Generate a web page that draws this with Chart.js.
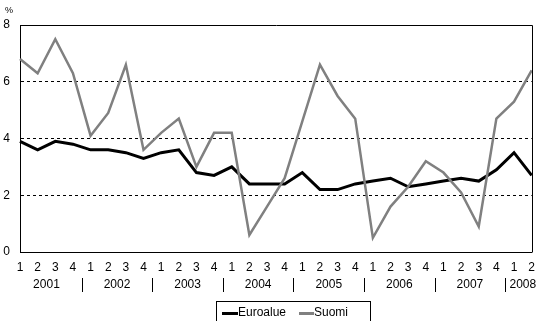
<!DOCTYPE html>
<html><head><meta charset="utf-8">
<script src="https://cdn.jsdelivr.net/npm/chart.js@4.4.0/dist/chart.umd.min.js"></script>
<style>
html,body{margin:0;padding:0;background:#fff;overflow:hidden;}
#wrap{position:relative;width:543px;height:321px;overflow:hidden;}
#c{position:absolute;left:0;top:0;}
#legend{position:absolute;left:216px;top:301px;width:153px;height:30px;border:1px solid #000;font:12px "Liberation Sans",Arial,sans-serif;color:#000;}
.sw{position:absolute;height:3px;top:10px;}
.lt{position:absolute;top:3px;line-height:14px;}
</style>
</head><body>
<div id="wrap">
<canvas id="c" width="543" height="321"></canvas>
<div id="legend">
  <div class="sw" style="left:5px;width:16px;background:#000;"></div>
  <div class="lt" style="left:21px;" id="l1"></div>
  <div class="sw" style="left:82px;width:15px;background:#808080;"></div>
  <div class="lt" style="left:97px;" id="l2"></div>
</div>
</div>
<script>
const seriesNames = ["Euroalue", "Suomi"];
const quarterLabels = ["1","2","3","4","1","2","3","4","1","2","3","4","1","2","3","4","1","2","3","4","1","2","3","4","1","2","3","4","1","2"];
const yearLabels = ["2001","2002","2003","2004","2005","2006","2007","2008"];
const quartersPerYear = [4,4,4,4,4,4,4,2];
const euroalue = [3.9,3.6,3.9,3.8,3.6,3.6,3.5,3.3,3.5,3.6,2.8,2.7,3.0,2.4,2.4,2.4,2.8,2.2,2.2,2.4,2.5,2.6,2.3,2.4,2.5,2.6,2.5,2.9,3.5,2.7];
const suomi = [6.8,6.3,7.5,6.3,4.1,4.9,6.6,3.6,4.2,4.7,3.0,4.2,4.2,0.6,1.6,2.6,4.6,6.6,5.5,4.7,0.5,1.6,2.3,3.2,2.8,2.1,0.9,4.7,5.3,6.4];
const yTickValues = [0,2,4,6,8];
const unitLabel = "%";

document.getElementById('l1').textContent = seriesNames[0];
document.getElementById('l2').textContent = seriesNames[1];

const FONT = '"Liberation Sans", Arial, sans-serif';

const extras = {
  id: 'extras',
  afterDraw(chart) {
    const ctx = chart.ctx, a = chart.chartArea, xs = chart.scales.x;
    ctx.save();
    ctx.strokeStyle = '#000';
    ctx.lineWidth = 1;
    ctx.beginPath();
    ctx.moveTo(Math.round(a.left) + 0.5, Math.round(a.top) + 0.5);
    ctx.lineTo(Math.round(a.right) + 0.5, Math.round(a.top) + 0.5);
    ctx.lineTo(Math.round(a.right) + 0.5, Math.round(a.bottom) + 0.5);
    ctx.stroke();
    ctx.fillStyle = '#000';
    ctx.font = '9px ' + FONT;
    ctx.textAlign = 'left';
    ctx.textBaseline = 'middle';
    ctx.fillText(unitLabel, 5, 11);
    ctx.font = '12px ' + FONT;
    ctx.textAlign = 'center';
    let idx = 0;
    const yText = 285, y1 = 278, y2 = 292;
    for (let i = 0; i < yearLabels.length; i++) {
      const first = idx, last = idx + quartersPerYear[i] - 1;
      const xc = (xs.getPixelForValue(first) + xs.getPixelForValue(last)) / 2;
      ctx.fillText(yearLabels[i], xc, yText);
      if (i > 0) {
        const xsep = Math.round((xs.getPixelForValue(first - 1) + xs.getPixelForValue(first)) / 2) + 0.5;
        ctx.beginPath();
        ctx.moveTo(xsep, y1);
        ctx.lineTo(xsep, y2);
        ctx.stroke();
      }
      idx = last + 1;
    }
    ctx.restore();
  }
};

new Chart(document.getElementById('c'), {
  type: 'line',
  data: {
    labels: quarterLabels,
    datasets: [
      { label: seriesNames[0], data: euroalue, borderColor: '#000', borderWidth: 3, pointRadius: 0, tension: 0, fill: false, order: 1 },
      { label: seriesNames[1], data: suomi, borderColor: '#808080', borderWidth: 2.5, pointRadius: 0, tension: 0, fill: false, order: 0 }
    ]
  },
  options: {
    responsive: false,
    animation: false,
    events: [],
    layout: { padding: { top: 25, right: 7, left: 0, bottom: 0 } },
    plugins: { legend: { display: false }, tooltip: { enabled: false } },
    scales: {
      x: {
        type: 'category',
        offset: false,
        grid: { display: false, drawTicks: false },
        border: { display: true, color: '#000', width: 1 },
        ticks: { autoSkip: false, maxRotation: 0, minRotation: 0, padding: 8, color: '#000', font: { family: FONT, size: 12 } },
        afterFit(s) { s.height = 69; }
      },
      y: {
        min: 0, max: 8,
        afterBuildTicks(s) { s.ticks = yTickValues.map(v => ({ value: v })); },
        grid: { color: '#000', lineWidth: 1, drawTicks: false },
        border: { display: true, color: '#000', width: 1, dash: [3, 3] },
        ticks: { padding: 10, color: '#000', font: { family: FONT, size: 12 } },
        afterFit(s) { s.width = 20; }
      }
    }
  },
  plugins: [extras]
});
</script>
</body></html>
